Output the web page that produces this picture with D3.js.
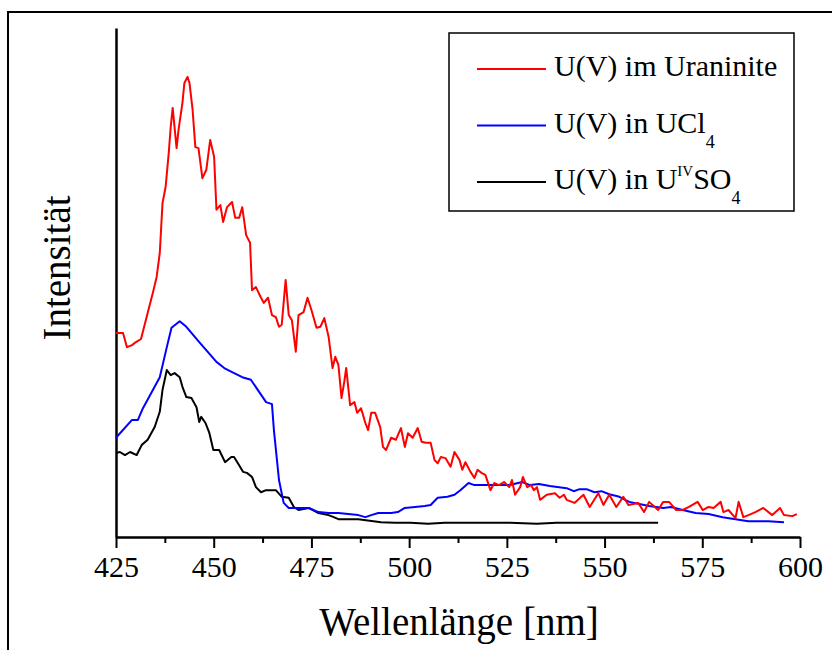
<!DOCTYPE html>
<html>
<head>
<meta charset="utf-8">
<script src="https://cdn.jsdelivr.net/npm/d3@7"></script>
<style>
  body { margin: 0; background: #fff; }
  svg { display: block; }
  text { font-family: "Liberation Serif", "Times New Roman", serif; }
</style>
</head>
<body>
<div id="chart"></div>
<script>
// wavelength [nm], intensity (arbitrary units, 0..100)
const uraninite = [
  [425.0,40.1],[426.8,40.1],[427.8,37.3],[429.1,37.7],[430.1,38.3],[431.4,38.9],[433.1,44.0],[434.4,47.9],
  [435.4,51.1],[436.2,55.8],[436.9,65.6],[437.7,68.8],[438.5,75.5],[439.0,80.6],[439.5,84.3],[440.5,76.4],
  [441.0,80.0],[442.0,85.3],[442.5,89.2],[443.3,90.4],[443.8,89.2],[444.6,83.9],[445.3,76.6],[446.1,76.4],
  [447.1,70.5],[448.1,72.1],[449.1,78.0],[450.1,74.7],[450.7,64.3],[451.7,65.2],[452.4,61.9],[453.4,64.8],
  [454.7,65.8],[455.5,62.7],[456.5,62.7],[457.3,64.8],[458.3,59.3],[459.3,57.8],[459.8,48.5],[460.8,49.1],
  [462.1,47.0],[462.8,46.0],[463.9,47.0],[464.9,43.6],[465.9,43.2],[466.7,41.3],[467.4,41.7],[468.4,50.5],
  [469.2,43.6],[470.0,42.6],[471.0,36.4],[471.7,43.6],[473.0,44.2],[474.0,47.0],[475.0,44.6],[476.3,41.1],
  [477.3,41.3],[478.3,43.0],[479.4,39.3],[480.4,33.2],[481.1,35.4],[481.9,33.8],[482.7,27.3],[483.4,30.5],
  [483.9,33.2],[484.9,25.9],[486.0,26.5],[486.7,24.4],[487.7,25.3],[488.8,22.4],[489.5,21.0],[490.3,24.4],
  [491.3,24.4],[492.6,21.6],[493.3,17.7],[494.1,17.1],[495.4,19.5],[496.6,19.1],[497.9,21.4],[498.9,17.7],
  [499.7,20.4],[500.9,19.5],[502.2,21.4],[503.2,18.7],[504.2,18.5],[505.5,18.5],[506.5,15.1],[507.3,14.5],
  [508.1,15.7],[509.3,15.5],[510.6,13.8],[511.6,16.7],[512.9,15.1],[513.6,13.2],[514.4,14.7],[515.7,12.8],
  [516.7,11.6],[517.5,13.2],[518.5,12.6],[519.5,12.2],[520.8,9.2],[521.8,10.6],[523.0,10.2],[524.3,10.8],
  [525.6,9.8],[526.3,11.2],[527.1,8.3],[528.4,9.8],[529.1,11.8],[530.2,9.8],[531.2,10.2],[531.9,9.2],
  [532.7,9.8],[533.5,7.3],[535.2,8.3],[537.3,8.6],[538.5,7.7],[539.6,8.3],[540.3,7.3],[542.3,6.7],
  [544.6,8.3],[546.2,5.9],[548.4,8.6],[549.7,6.3],[551.2,8.3],[553.0,5.9],[554.8,7.9],[556.1,6.3],
  [558.6,6.7],[560.1,4.9],[561.4,6.9],[563.7,5.3],[565.0,6.9],[566.5,6.9],[568.3,5.3],[570.0,5.3],
  [571.6,5.9],[573.8,6.9],[575.1,5.3],[576.6,5.9],[577.9,5.7],[579.7,6.9],[580.4,4.9],[581.7,5.3],
  [583.5,3.7],[584.3,6.9],[585.5,3.9],[586.8,4.3],[588.6,4.9],[590.6,5.7],[592.9,4.3],[594.9,5.7],
  [595.9,4.3],[598.0,4.1],[599.2,4.5]
];
const ucl4 = [
  [425.0,19.5],[429.1,23.0],[430.6,23.0],[431.9,25.3],[436.2,31.4],[438.0,37.3],[439.2,41.1],[441.3,42.4],
  [443.0,41.3],[446.3,38.3],[450.7,34.4],[452.7,33.2],[454.7,32.4],[457.3,31.4],[459.5,30.9],[463.4,26.5],
  [464.9,26.1],[465.4,21.0],[466.7,11.2],[467.9,6.7],[469.2,5.7],[471.7,5.7],[474.3,5.7],[476.8,4.9],
  [479.4,4.7],[481.9,4.7],[484.4,4.5],[487.0,4.3],[488.8,3.9],[490.3,4.3],[492.1,4.7],[495.4,4.7],
  [497.1,4.9],[498.9,5.7],[501.5,5.9],[504.0,6.1],[505.5,6.3],[507.3,7.7],[509.8,7.9],[511.6,8.3],
  [513.1,9.2],[515.2,10.6],[516.7,10.2],[520.0,10.2],[522.5,10.2],[525.8,10.2],[528.9,10.8],[530.9,10.2],
  [533.2,10.4],[536.0,10.0],[540.3,9.6],[542.1,9.0],[543.6,9.4],[545.4,9.4],[547.4,8.8],[549.2,9.0],
  [551.2,8.4],[553.8,7.9],[556.3,6.9],[558.9,6.5],[561.4,6.1],[565.0,5.7],[567.0,5.9],[570.0,5.3],
  [573.3,4.7],[576.6,4.5],[580.2,3.9],[583.5,3.5],[586.8,3.1],[591.9,3.1],[595.9,2.9]
];
const uso4 = [
  [425.0,16.5],[426.0,16.7],[427.3,16.1],[428.6,16.7],[430.3,16.1],[431.6,18.1],[433.1,19.1],[434.9,21.6],
  [436.2,24.6],[436.9,28.9],[438.0,32.8],[439.0,31.8],[440.0,32.2],[441.3,31.4],[442.0,29.5],[443.0,27.5],
  [444.3,27.3],[445.6,25.5],[446.3,22.6],[446.8,23.6],[447.9,22.4],[448.9,20.4],[449.9,17.1],[451.4,17.1],
  [452.9,14.7],[454.5,15.7],[455.2,15.7],[456.5,14.1],[457.5,12.8],[458.5,12.6],[459.8,11.8],[460.8,9.8],
  [462.1,8.8],[463.4,9.2],[465.9,9.2],[467.4,7.9],[469.2,7.7],[470.5,5.9],[471.7,5.3],[474.3,5.7],
  [476.8,4.7],[479.4,4.3],[480.7,3.9],[481.9,3.5],[487.0,3.5],[492.8,2.9],[496.4,2.8],[500.4,2.8],
  [504.8,2.6],[509.1,2.8],[513.1,2.8],[517.5,2.8],[521.8,2.8],[525.8,2.8],[532.7,2.6],[537.7,2.8],
  [542.8,2.8],[547.9,2.8],[553.0,2.8],[558.1,2.8],[563.7,2.8]
];
const xTicks = [425, 450, 475, 500, 525, 550, 575, 600];
const xMinorTicks = [437.5, 462.5, 487.5, 512.5, 537.5, 562.5, 587.5];

const width = 832, height = 650;
const plot = { left: 116, right: 800, top: 28, bottom: 537 };
const serif = "'Liberation Serif', 'Times New Roman', serif";

const svg = d3.select("#chart").append("svg")
  .attr("width", width)
  .attr("height", height)
  .attr("font-family", serif);

// outer frame
svg.append("rect")
  .attr("x", 8).attr("y", 12)
  .attr("width", 900).attr("height", 900)
  .attr("fill", "none").attr("stroke", "#000").attr("stroke-width", 2);

const x = d3.scaleLinear().domain([425, 600]).range([plot.left, plot.right]);
const y = d3.scaleLinear().domain([0, 100]).range([plot.bottom, plot.top]);

// minor ticks
svg.append("g")
  .attr("transform", `translate(0,${plot.bottom})`)
  .call(d3.axisBottom(x).tickValues(xMinorTicks).tickSize(6).tickFormat(""))
  .call(g => g.select(".domain").remove())
  .selectAll("line").attr("stroke-width", 2);

// major ticks + labels
const xAxis = svg.append("g")
  .attr("transform", `translate(0,${plot.bottom})`)
  .call(d3.axisBottom(x).tickValues(xTicks).tickSize(11).tickSizeOuter(0).tickFormat(d3.format("d")));
xAxis.attr("font-family", serif);
xAxis.select(".domain").attr("stroke-width", 2.5);
xAxis.selectAll("line").attr("stroke-width", 2);
xAxis.selectAll("text")
  .attr("y", 40).attr("dy", null)
  .attr("font-size", 30)
  .style("font-family", serif)
  .attr("fill", "#000");

// y axis: line only
svg.append("g")
  .attr("transform", `translate(${plot.left},0)`)
  .call(d3.axisLeft(y).tickValues([]).tickSizeOuter(0))
  .select(".domain").attr("stroke-width", 2.5);

// curves
const line = d3.line().x(d => x(d[0])).y(d => y(d[1]));
const series = [
  { data: uso4, color: "#000000" },
  { data: ucl4, color: "#0000ff" },
  { data: uraninite, color: "#ff0000" }
];
svg.append("g").selectAll("path")
  .data(series)
  .join("path")
  .attr("d", d => line(d.data))
  .attr("fill", "none")
  .attr("stroke", d => d.color)
  .attr("stroke-width", 2)
  .attr("stroke-linejoin", "round");

// axis titles
svg.append("text")
  .attr("x", 459).attr("y", 635)
  .attr("text-anchor", "middle")
  .attr("font-size", 39)
  .style("font-family", serif)
  .text("Wellenlänge [nm]");

svg.append("text")
  .attr("transform", "translate(70,268) rotate(-90)")
  .attr("text-anchor", "middle")
  .attr("font-size", 39)
  .style("font-family", serif)
  .text("Intensität");

// legend
const legend = svg.append("g");
legend.append("rect")
  .attr("x", 449).attr("y", 33)
  .attr("width", 345).attr("height", 178)
  .attr("fill", "#fff").attr("stroke", "#000").attr("stroke-width", 1.5);

const legendItems = [
  { color: "#ff0000", parts: [["U(V) im Uraninite", 0]] },
  { color: "#0000ff", parts: [["U(V) in UCl", 0], ["4", 1]] },
  { color: "#000000", parts: [["U(V) in U", 0], ["IV", -1], ["SO", 0], ["4", 1]] }
];
legendItems.forEach((item, i) => {
  const yy = 69 + i * 56.5;
  legend.append("line")
    .attr("x1", 477).attr("x2", 546)
    .attr("y1", yy).attr("y2", yy)
    .attr("stroke", item.color).attr("stroke-width", 2);
  const t = legend.append("text")
    .attr("x", 554).attr("y", yy + 7)
    .attr("font-size", 30)
    .style("font-family", serif);
  // baseline shift for sub/superscripts, relative to the previous part
  let offset = 0;
  item.parts.forEach(([s, shift]) => {
    const target = shift === 1 ? 15 : shift === -1 ? -13 : 0;
    const span = t.append("tspan").text(s).attr("dy", target - offset);
    if (shift === 1) span.attr("font-size", 18);
    else if (shift === -1) span.attr("font-size", 15);
    offset = target;
  });
});
</script>
</body>
</html>
